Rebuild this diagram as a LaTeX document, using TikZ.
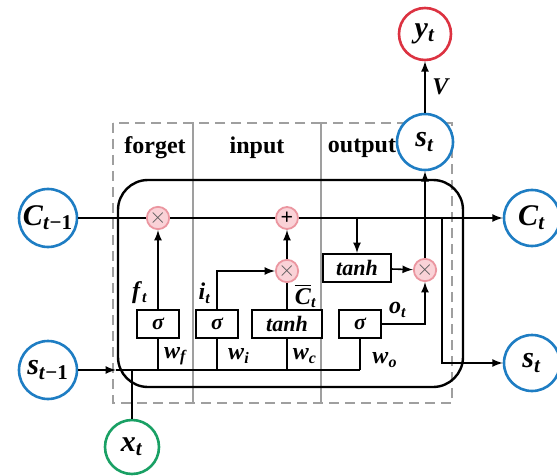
\documentclass[tikz,border=0pt]{standalone}
\usepackage{fontspec}
\setmainfont{Liberation Serif}
\newcommand\vl[2]{\textbf{\textit{#1}\textsubscript{#2}}}
\definecolor{cellblue}{RGB}{30,125,195}
\definecolor{xgreen}{RGB}{25,160,100}
\definecolor{outred}{RGB}{220,50,65}
\definecolor{opline}{RGB}{235,150,160}
\definecolor{opfill}{RGB}{250,210,215}
\begin{document}
\begin{tikzpicture}[>=latex,x=0.5pt,y=-0.5pt,line width=0.8pt,
    state/.style={circle,draw=cellblue,line width=1.3pt,fill=white,minimum size=29pt,inner sep=0pt,font=\fontsize{15}{17}\selectfont},
    op/.style={circle,draw=opline,fill=opfill,line width=0.9pt,minimum size=11pt,inner sep=0pt,font=\fontsize{11}{11}\selectfont},
    gate/.style={draw,line width=1pt,fill=white,minimum width=21pt,minimum height=14pt,inner sep=1pt,font=\fontsize{11}{13}\selectfont\bfseries\itshape},
    region/.style={draw=gray!75,dash pattern=on 5pt off 3pt,line width=0.8pt},
    title/.style={font=\fontsize{12}{14}\selectfont\bfseries},
    wlab/.style={font=\fontsize{12}{14}\selectfont}]
        \useasboundingbox (0,0) rectangle (557,476);
        %gate regions
        \draw[region] (113,123) rectangle (193,403);
        \draw[region] (193,123) rectangle (321,403);
        \draw[region] (321,123) rectangle (452,403);
        \node[title] (tforget) at (155,148) {forget};
        \node[title] (tinput) at (257,148) {input};
        \node[title] (toutput) at (362,148) {output};
        %cell body
        \draw[line width=1.2pt,rounded corners=15pt] (118,180) rectangle (463,387);
        %states
        \node[state] (cprev) at (48,218) {\vl{C}{\textit{t}−1}};
        \node[state] (sprev) at (48,370) {\vl{s}{\textit{t}−1}};
        \node[state,draw=xgreen,minimum size=27pt] (xt) at (132,447) {\vl{x}{\textit{t}}};
        \node[state,minimum size=28pt] (cnext) at (532,218) {\vl{C}{\textit{t}}};
        \node[state,minimum size=28pt] (snext) at (532,363) {\vl{s}{\textit{t}}};
        \node[state,minimum size=28pt] (stop) at (425,142) {\vl{s}{\textit{t}}};
        \node[state,draw=outred,minimum size=26pt] (yt) at (425,34) {\vl{y}{\textit{t}}};
        %operations
        \node[op] (fmul) at (158,218) {\color{black!65}$\times$};
        \node[op] (add) at (287,218) {\textbf{+}};
        \node[op] (imul) at (287,271) {\color{black!65}$\times$};
        \node[op] (omul) at (425,270) {\color{black!65}$\times$};
        %gates
        \node[gate] (fsig) at (158,324) {σ};
        \node[gate] (isig) at (217,324) {σ};
        \node[gate,minimum width=35pt] (ctanh) at (287,324) {tanh};
        \node[gate] (osig) at (360,324) {σ};
        \node[gate,minimum width=34pt] (otanh) at (357,268) {tanh};
        %cell state
        \draw (cprev) -- (fmul);
        \draw (fmul) -- (add);
        \draw[->] (add) -- (cnext);
        %input bus
        \coordinate (jin) at (116,370);
        \coordinate (jx) at (132,370);
        \coordinate (jf) at (158,370);
        \coordinate (ji) at (217,370);
        \coordinate (jc) at (287,370);
        \coordinate (jo) at (360,370);
        \draw[->] (sprev) -- (jin);
        \draw (jin) -- (jo);
        \draw (xt) -- (jx);
        \foreach \g/\j in {fsig/jf,isig/ji,ctanh/jc,osig/jo}
        \draw (\j) -- (\g);
        %gate outputs
        \draw[->] (fsig) -- (fmul);
        \draw[->] (isig) |- (imul);
        \draw (ctanh) -- (imul);
        \draw[->] (imul) -- (add);
        \coordinate (jt) at (357,218);
        \draw[->] (jt) -- (otanh);
        \draw[->] (otanh) -- (omul);
        \draw[->] (osig) -| (omul);
        \draw[->] (omul) -- (stop);
        \draw[->] (stop) -- (yt) node[midway,right,wlab] (lv) {\textbf{\textit{V}}};
        \coordinate (jr) at (442,218);
        \draw[->] (jr) |- (snext);
        %labels
        \node[wlab] (lf) at (140,293) {\vl{f}{\textit{t}}};
        \node[wlab] (li) at (205,293) {\vl{i}{\textit{t}}};
        \node[wlab] (lc) at (306,296) {\textbf{$\overline{\mbox{\textbf{\textit{C}}}}$\textsubscript{\textit{t}}}};
        \node[wlab] (lo) at (398,310) {\vl{o}{\textit{t}}};
        \node[wlab] (wf) at (176,356) {\vl{w}{\textit{f}}};
        \node[wlab] (wi) at (239,356) {\vl{w}{\textit{i}}};
        \node[wlab] (wc) at (305,356) {\vl{w}{\textit{c}}};
        \node[wlab] (wo) at (385,360) {\vl{w}{\textit{o}}};
    \end{tikzpicture}
\end{document}
